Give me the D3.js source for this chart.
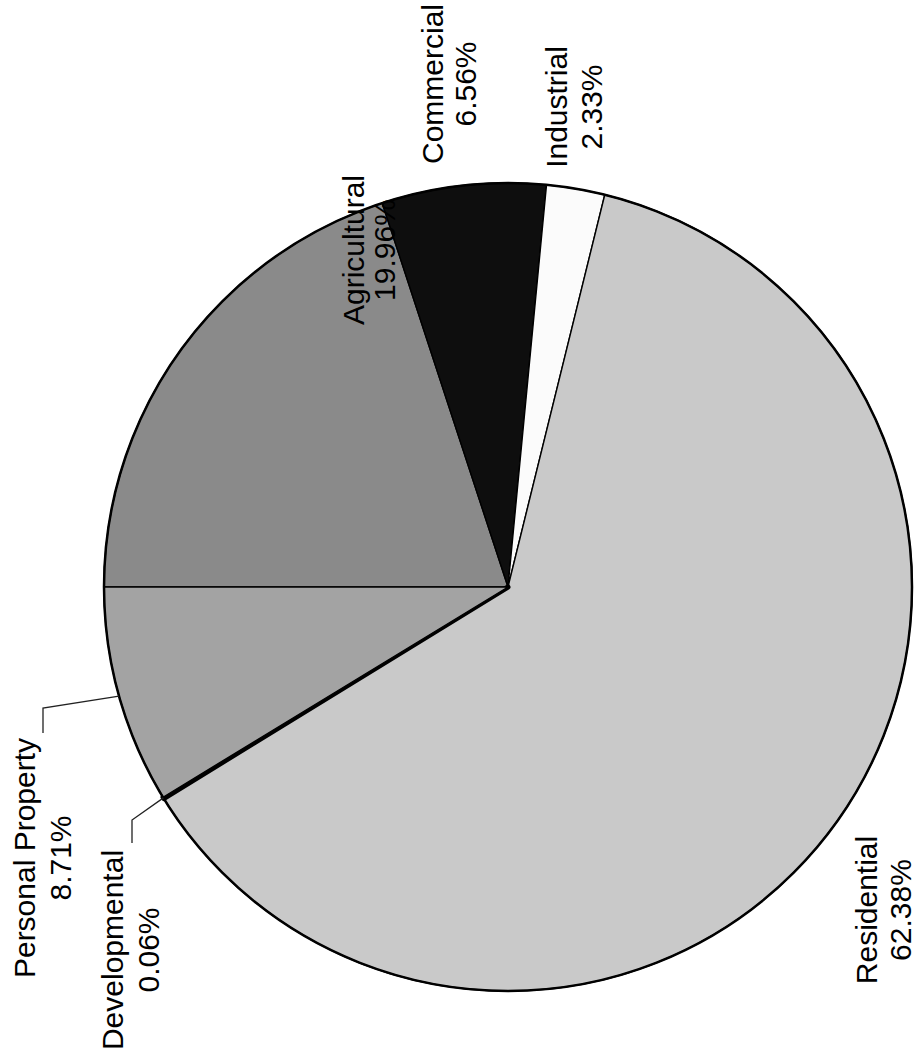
<!DOCTYPE html>
<html>
<head>
<meta charset="utf-8">
<script src="https://cdn.jsdelivr.net/npm/d3@7/dist/d3.min.js"></script>
<style>
  html, body { margin: 0; padding: 0; background: #fff; }
  svg { display: block; }
  text { font-family: "Liberation Sans", Arial, sans-serif; font-size: 30px; fill: #000; }
</style>
</head>
<body>
<svg id="chart" width="919" height="1059"></svg>
<script>
// ---- data ----
const categories = ["Agricultural", "Commercial", "Industrial", "Residential", "Developmental", "Personal Property"];
const percentages = [19.96, 6.56, 2.33, 62.38, 0.06, 8.71];
const percentLabels = ["19.96%", "6.56%", "2.33%", "62.38%", "0.06%", "8.71%"];

// ---- styling / layout (not data) ----
const fills = ["#8a8a8a", "#0e0e0e", "#fbfbfb", "#c9c9c9", "#000000", "#a3a3a3"];
const cx = 508, cy = 587, R = 404;
// label anchor (screen x of first baseline, screen y of text centre), rotated text
const labelPos = {
  "Agricultural":      { x: 364, y: 250, gap: 31 },
  "Commercial":        { x: 443, y: 84,  gap: 33 },
  "Industrial":        { x: 567, y: 107, gap: 35 },
  "Residential":       { x: 877, y: 910, gap: 34 },
  "Developmental":     { x: 123, y: 950, gap: 36 },
  "Personal Property": { x: 35,  y: 858, gap: 36 }
};
// leader elbows for outside labels
const leaders = {
  "Personal Property": { ex: 43, ey: 708, ty: 733 },
  "Developmental":     { ex: 132, ey: 820, ty: 843 }
};

const svg = d3.select("#chart");
const g = svg.append("g").attr("transform", `translate(${cx},${cy})`);

const pie = d3.pie().sort(null).value(d => d.v)
  .startAngle(-Math.PI / 2).endAngle(3 * Math.PI / 2);
const data = categories.map((c, i) => ({ c, v: percentages[i], lab: percentLabels[i], fill: fills[i] }));
const arcs = pie(data);
const arc = d3.arc().innerRadius(0).outerRadius(R);

g.selectAll("path.slice").data(arcs).enter().append("path")
  .attr("class", "slice")
  .attr("d", arc)
  .attr("fill", d => d.data.fill)
  .attr("stroke", "#000")
  .attr("stroke-width", d => d.data.c === "Developmental" ? 5 : 1.4)
  .attr("stroke-linejoin", "round");

// outer outline
g.append("circle").attr("r", R).attr("fill", "none").attr("stroke", "#000").attr("stroke-width", 2.5);

// leader lines
arcs.forEach(a => {
  const L = leaders[a.data.c];
  if (!L) return;
  const mid = (a.startAngle + a.endAngle) / 2;
  const sx = cx + R * Math.sin(mid), sy = cy - R * Math.cos(mid);
  svg.append("path")
    .attr("d", d3.line()([[sx, sy], [L.ex, L.ey], [L.ex, L.ty]]))
    .attr("fill", "none").attr("stroke", "#222").attr("stroke-width", 1.3);
});

// labels (rotated -90, reading bottom to top)
arcs.forEach(a => {
  const p = labelPos[a.data.c];
  const t = svg.append("g").attr("transform", `translate(${p.x},${p.y}) rotate(-90)`);
  t.append("text").attr("text-anchor", "middle").attr("x", 0).attr("y", 0).text(a.data.c);
  t.append("text").attr("text-anchor", "middle").attr("x", 0).attr("y", p.gap).text(a.data.lab);
});
</script>
</body>
</html>
